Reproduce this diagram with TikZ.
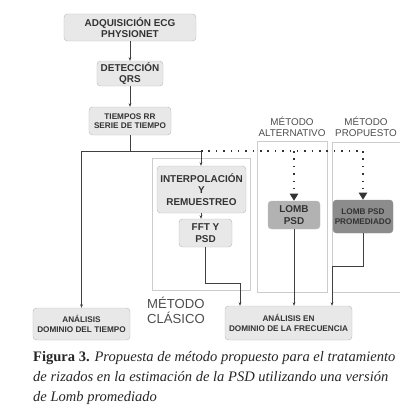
\documentclass[tikz,border=0pt]{standalone}
\usepackage{fontspec}
\setmainfont{Liberation Serif}
\setsansfont{Liberation Sans}
\usetikzlibrary{positioning,arrows.meta}

\begin{document}
\begin{tikzpicture}[x=0.03cm, y=-0.03cm,
  blk/.style={draw=black!25, fill=black!9, rounded corners=3pt, align=center,
    inner sep=1pt, text=black!80, font=\sffamily\bfseries\fontsize{8.5}{9.6}\selectfont},
  small/.style={font=\sffamily\bfseries\fontsize{7}{8}\selectfont},
  frame/.style={draw=black!20, line width=0.5pt},
  lbl/.style={text=black!70, align=center, font=\sffamily\fontsize{8.4}{9.4}\selectfont},
  conn/.style={draw=black!75, line width=0.5pt},
  arr/.style={conn, -{Stealth[length=3pt,width=2.4pt]}},
  dots/.style={draw=black!80, line width=1.3pt, dash pattern=on 1.3pt off 5pt,
    -{Triangle[length=6pt,width=7pt]}}]
  \useasboundingbox (0,0) rectangle (418,420);
  % method frames
  \draw[frame] (152,158) rectangle (250,290);
  \draw[frame] (257,141) rectangle (327,292);
  \draw[frame] (400,142) -- (332,142) -- (332,292) -- (400,292);
  \node[lbl] (altlbl) at (292,127) {MÉTODO\\ALTERNATIVO};
  \node[lbl] (proplbl) at (366,127) {MÉTODO\\PROPUESTO};
  \node[lbl, font=\sffamily\fontsize{11.2}{12.6}\selectfont, align=left, anchor=west] (claslbl) at (143,310) {MÉTODO\\CLÁSICO};
  % boxes
  \node[blk, minimum width=3.96cm, minimum height=0.81cm] (adq) at (130,27.5) {ADQUISICIÓN ECG\\PHYSIONET};
  \node[blk, minimum width=1.98cm, minimum height=0.75cm] (qrs) at (130,73.5) {DETECCIÓN\\QRS};
  \node[blk, small, minimum width=2.46cm, minimum height=0.84cm] (rr) at (130,121) {TIEMPOS RR\\SERIE DE TIEMPO};
  \node[blk, small, minimum width=2.91cm, minimum height=0.96cm] (tiempo) at (81.5,324) {ANÁLISIS\\DOMINIO DEL TIEMPO};
  \node[blk, minimum width=2.67cm, minimum height=1.41cm] (interp) at (201.5,189.5) {INTERPOLACIÓN\\Y\\REMUESTREO};
  \node[blk, minimum width=1.59cm, minimum height=0.84cm] (fft) at (205.5,233) {FFT Y\\PSD};
  \node[blk, fill=black!30, minimum width=1.56cm, minimum height=0.84cm] (lomb) at (294,215) {LOMB\\PSD};
  \node[blk, small, fill=black!45, draw=black!45, minimum width=1.8cm, minimum height=0.99cm] (prom) at (363,216.5) {LOMB PSD\\PROMEDIADO};
  \node[blk, small, minimum width=3.81cm, minimum height=1.02cm] (freq) at (288.5,323) {ANÁLISIS EN\\DOMINIO DE LA FRECUENCIA};
  % connectors
  \coordinate (j) at (130,151);
  \coordinate (k) at (201,151);
  \coordinate (fftbend) at (240,283);
  \coordinate (prombend) at (332,266);
  \draw[arr] (adq) -- (qrs);
  \draw[arr] (qrs) -- (rr);
  \draw[conn] (rr) -- (j);
  \draw[arr] (j) -| (tiempo);
  \draw[arr] (j) -- (k) -- (k |- interp.north);
  \draw[dots, -] (k) -- (lomb |- k) -- (prom |- k);
  \draw[dots] (lomb |- k) -- (lomb);
  \draw[dots] (prom |- k) -- (prom);
  \draw[arr] (interp.south -| k) -- (k |- fft.north);
  \draw[arr] (fft.south) |- (fftbend) -- (fftbend |- freq.north);
  \draw[arr] (lomb) -- (lomb |- freq.north);
  \draw[arr] (prom.south) |- (prombend) -- (prombend |- freq.north);
  % caption
  \node[anchor=north west, align=left, inner sep=0pt, text=black!85,
    font=\fontsize{12.4}{17}\selectfont] (cap) at (33,351)
    {\textbf{Figura 3.} \textit{Propuesta de método propuesto para el tratamiento}\\
     \textit{de rizados en la estimación de la PSD utilizando una versión}\\
     \textit{de Lomb promediado}};
\end{tikzpicture}
\end{document}
